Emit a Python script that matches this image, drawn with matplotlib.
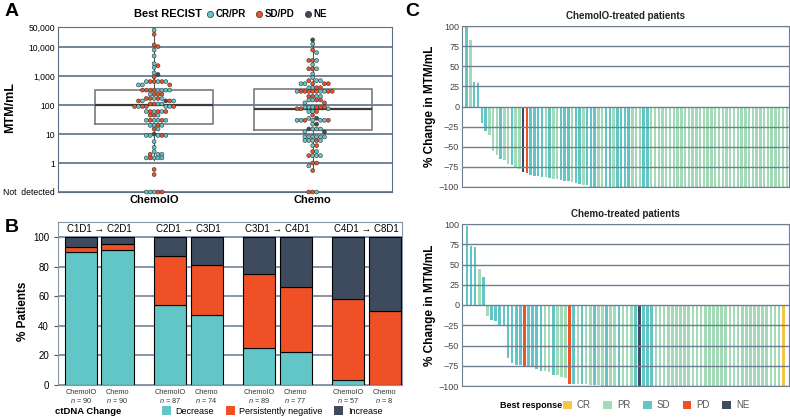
# ctDNA / MTM multi-panel figure (A: beeswarm, B: stacked bars, C: waterfalls)

import numpy as np
import matplotlib.pyplot as plt
from matplotlib.patches import Patch
from matplotlib.lines import Line2D
from matplotlib.ticker import NullLocator
import matplotlib.transforms as mtransforms

plt.rcParams['font.family'] = ['Liberation Sans', 'DejaVu Sans']
plt.rcParams['mathtext.fontset'] = 'custom'
plt.rcParams['mathtext.rm'] = 'Liberation Sans'
plt.rcParams['mathtext.it'] = 'Liberation Sans:italic'

W, H = 790, 418

TEAL = '#62C6C6'
RED = '#EF5026'
NAVY = '#3E4B5E'
GREEN = '#A3DBB8'
YELLOW = '#F2C54B'
GRID = '#5E6D86'

# ---------------- Panel A data: MTM/mL per patient (0.1 = not detected) ----
# R = CR/PR, S = SD/PD, N = NE
chemoio_mtm = [39000, 28000, 12000, 10500, 8000, 5000, 2700, 2300, 2000, 1300, 1150, 950,
               650, 650, 650, 650, 650, 650, 500, 500, 500,
               330, 330, 330, 330, 330, 330, 330, 330, 240, 240, 240, 240,
               170, 170, 170, 170, 170, 140, 140, 140, 140, 140,
               110, 110, 110, 110, 90, 90, 90, 90, 90, 90, 90,
               60, 60, 60, 60, 60, 60, 45, 45, 45,
               30, 30, 30, 30, 30, 30, 20, 20, 20, 20, 15, 15, 10,
               9, 9, 9, 9, 9, 5.5, 3.5, 2.5, 2, 2, 2,
               1.5, 1.5, 1.5, 1.5, 1.5, 0.6, 0.4, 0.1, 0.1, 0.1, 0.1, 0.1]
chemoio_recist = list("RSSSRRRSRRNS" "SRSSRR" "RSR" "SRSRSRSR" "SSRS"
                      "RSSRS" "NRSSR" "SRSR" "SRSRRSS" "RSSRRS" "SRS"
                      "RRSSRR" "RSRR" "SR" "N" "RRSRR" "RRR" "RSR" "RRSRR" "SS" "RSRSR")

chemo_mtm = [18000, 13000, 8000, 6500, 3500, 3500, 3500, 2500, 1800, 1800, 1800, 1200, 900,
             700, 700, 700, 550, 550, 550, 550, 550, 400, 400, 400, 400,
             300, 300, 300, 300, 300, 300, 300, 300, 300, 300,
             200, 200, 200, 200, 150, 150, 150, 150, 120, 120,
             85, 85, 85, 85, 85, 85, 75, 75, 75, 60, 60, 60, 45, 35, 35,
             30, 30, 30, 30, 30, 30, 30, 22, 22, 15, 15, 15, 15, 12, 12,
             8, 8, 8, 8, 8, 8, 6, 6, 6, 6, 6, 4, 4, 2.5, 2.5,
             1.8, 1.8, 1.8, 1.8, 1.0, 1.0, 0.8, 0.55, 0.1, 0.1, 0.1]
chemo_recist = list("NRSR" "SRS" "R" "SRS" "RR" "RSR" "SRSRS" "RSRS"
                    "SSSRSRSSRS" "SRSR" "RSRS" "RS" "RSRSRS" "SRS" "RSR" "S" "NR"
                    "RRSRRSR" "RN" "RRNR" "RN" "RRRRRR" "RSRRR" "RS" "SR"
                    "RRSR" "SS" "R" "S" "SRS")

# box stats
box_q1 = [22, 14]
box_med = [100, 71]
box_q3 = [330, 350]
box_lo = [1.3, 0.55]
box_hi = [39000, 18000]
groups = ['ChemoIO', 'Chemo']

# ---------------- Panel B data ----------------
intervals = ['C1D1 \u2192 C2D1', 'C2D1 \u2192 C3D1', 'C3D1 \u2192 C4D1', 'C4D1 \u2192 C8D1']
n_chemoio = [90, 87, 89, 57]
n_chemo = [90, 74, 77, 8]
dec_chemoio = [90, 54, 25, 3.5]
neg_chemoio = [3, 33, 50, 54.5]
inc_chemoio = [7, 13, 25, 42]
dec_chemo = [91, 47, 22, 0]
neg_chemo = [4.5, 34, 44, 50]
inc_chemo = [4.5, 19, 34, 50]

# ---------------- Panel C data: % change in MTM/mL ----------------
# C = CR, P = PR, S = SD, D = PD, N = NE
wf_chemoio = [100, 83, 30, 29, -21, -30, -35, -55, -60, -65, -66, -72, -73, -75, -78,
              -81, -82, -85, -86, -86, -87, -88, -89, -90, -90, -91, -92, -93, -94,
              -95, -96, -97, -98,
              -100, -100, -100, -100, -100, -100, -100, -100, -100, -100,
              -100, -100, -100, -100, -100, -100, -100, -100, -100, -100,
              -100, -100, -100, -100, -100, -100, -100, -100, -100, -100,
              -100, -100, -100, -100, -100, -100, -100, -100, -100, -100,
              -100, -100, -100, -100, -100, -100, -100, -100, -100, -100,
              -100, -100, -100]
wf_chemoio_resp = list("SPSSSSPPPSPPSPPND" "SSSSPSPPS" "SSPSSPSSSPPSSPSSSSPPPSS"
                       "PPPPPPPPPPPPPPPPPPPPPPPPPPPPPPPPPPPPP")
wf_chemo = [97, 73, 72, 44, 34, -13, -19, -20, -26, -26, -65, -72, -74, -74, -75,
            -76, -77, -79, -81, -82, -83, -86, -87, -89, -90, -97, -97, -97, -98,
            -98, -99, -99, -99,
            -100, -100, -100, -100, -100, -100, -100, -100, -100, -100,
            -100, -100, -100, -100, -100, -100, -100, -100, -100, -100,
            -100, -100, -100, -100, -100, -100, -100, -100, -100, -100,
            -100, -100, -100, -100, -100, -100, -100, -100, -100, -100,
            -100, -100, -100, -100, -100]
wf_chemo_resp = list("SSSPSPSSSSSSSSDSSSSPPSPPPD" "SPSPPSPPSPPSPPPSNSSS"
                     "PPPPPPPPPPPPPPPPPPPPPPPPPPPPPPP" "C")

recist_colors = {'R': TEAL, 'S': RED, 'N': NAVY}
resp_colors = {'C': YELLOW, 'P': GREEN, 'S': TEAL, 'D': RED, 'N': NAVY}


def px_rect(l, t, r, b):
    return [l / W, 1 - b / H, (r - l) / W, (b - t) / H]


def swarm(values, d=3.9, ppd=28.95, ppx=158.5):
    # simple beeswarm: offsets in steps of one dot width, in pixel space
    y = np.log10(values) * ppd
    cands = [0.0]
    for m in range(1, 40):
        cands += [m * d, -m * d]
    placed = []
    xs = np.zeros(len(values))
    for i in np.argsort(-y, kind='stable'):
        for c in cands:
            if all((c - px) ** 2 + (y[i] - py) ** 2 >= 0.75 * d * d for px, py in placed):
                break
        placed.append((c, y[i]))
        xs[i] = c / ppx
    return xs


fig = plt.figure(figsize=(W / 100, H / 100), dpi=100)

# ================= Panel A =================
axA = fig.add_axes(px_rect(58, 27, 392, 192))
axA.set_yscale('log')
axA.set_ylim(0.1, 5e4)
axA.set_xlim(-0.606, 1.5)
axA.yaxis.set_minor_locator(NullLocator())
axA.set_yticks([0.1, 1, 10, 100, 1000, 10000, 50000])
axA.set_yticklabels(['Not  detected', '1', '10', '100', '1,000', '10,000', '50,000'], fontsize=6.2)
for y in [0.1, 1, 10, 100, 1000, 10000, 50000]:
    axA.axhline(y, color=GRID, lw=1.2, zorder=0)
for s in axA.spines.values():
    s.set_color(GRID)
axA.tick_params(length=0, pad=2)
stats = [dict(med=box_med[i], q1=box_q1[i], q3=box_q3[i], whislo=box_lo[i],
              whishi=box_hi[i], label=groups[i]) for i in range(2)]
axA.bxp(stats, positions=[0, 1], widths=0.745, showfliers=False, showcaps=False,
        boxprops=dict(color='#7a7a7a', lw=1.2), medianprops=dict(color='#3a3a3a', lw=1.6),
        whiskerprops=dict(color='#555555', lw=0.8), zorder=1)
axA.set_xticks([0, 1])
axA.set_xticklabels(groups, fontsize=8, fontweight='bold')
axA.set_ylabel('MTM/mL', fontsize=9, fontweight='bold')
axA.yaxis.set_label_coords(-0.125, 0.51)
for i, (vals, resp) in enumerate([(chemoio_mtm, chemoio_recist), (chemo_mtm, chemo_recist)]):
    xo = swarm(np.array(vals, dtype=float))
    axA.scatter(i + xo, vals, s=8, c=[recist_colors[r] for r in resp],
                edgecolors='#333333', linewidths=0.4, zorder=3, clip_on=False)

fig.text(134 / W, 1 - 14 / H, 'Best RECIST', fontsize=8, fontweight='bold', va='center')
hA = [Line2D([], [], marker='o', ls='', mfc=c, mec='#333333', mew=0.5, ms=4.5)
      for c in [TEAL, RED, NAVY]]
fig.legend(hA, ['CR/PR', 'SD/PD', 'NE'], loc='center left', bbox_to_anchor=(205 / W, 1 - 14 / H),
           ncol=3, frameon=False, handletextpad=0.05, columnspacing=0.9, handlelength=1.0,
           borderaxespad=0, borderpad=0, prop=dict(weight='bold', size=7))

# ================= Panel B =================
axB = fig.add_axes(px_rect(58, 222, 402, 385))
axB.set_xlim(-0.463, 3.40)
axB.set_ylim(0, 110.1)
for y in range(0, 101, 20):
    axB.axhline(y, color='#7F8CA1', lw=1.3, zorder=0)
for s in axB.spines.values():
    s.set_color('#8795AA')
axB.set_yticks(range(0, 101, 20))
axB.tick_params(axis='y', labelsize=7, length=3, color='#555555')
axB.set_xticks([])
xi = np.arange(len(intervals))
off, bw = 0.205, 0.36
for xs, dec, neg, inc in [(xi - off, dec_chemoio, neg_chemoio, inc_chemoio),
                          (xi + off, dec_chemo, neg_chemo, inc_chemo)]:
    dec, neg, inc = map(np.array, (dec, neg, inc))
    axB.bar(xs, dec, bw, color=TEAL, edgecolor='black', lw=0.8, zorder=2)
    axB.bar(xs, neg, bw, bottom=dec, color=RED, edgecolor='black', lw=0.8, zorder=2)
    axB.bar(xs, inc, bw, bottom=dec + neg, color=NAVY, edgecolor='black', lw=0.8, zorder=2)
for i, lab in enumerate(intervals):
    axB.text(i, 105.2, lab, ha='center', va='center', fontsize=7)
trB = mtransforms.blended_transform_factory(axB.transData, axB.transAxes)
for i in xi:
    for x, g, n in [(i - off, 'ChemoIO', n_chemoio[i]), (i + off, 'Chemo', n_chemo[i])]:
        axB.text(x, -0.025, g + '\n' + r'$\it{n}$' + ' = %d' % n, transform=trB,
                 ha='center', va='top', fontsize=5.3, linespacing=0.95, color='#333333')
axB.set_ylabel('% Patients', fontsize=8.5, fontweight='bold', labelpad=3)
axB.yaxis.set_label_coords(-0.085, 0.45)

fig.text(55 / W, 1 - 411 / H, 'ctDNA Change', fontsize=6.8, fontweight='bold', va='center')
hB = [Patch(facecolor=c, edgecolor='none') for c in [TEAL, RED, NAVY]]
fig.legend(hB, ['Decrease', 'Persistently negative', 'Increase'], loc='center left',
           bbox_to_anchor=(162 / W, 1 - 411 / H), ncol=3, frameon=False, fontsize=6.5,
           handlelength=1.0, handleheight=1.0, handletextpad=0.5, columnspacing=1.3,
           borderaxespad=0, borderpad=0)

# ================= Panel C =================
def waterfall(rect, vals, resp, title, left_pad, right_pad):
    ax = fig.add_axes(px_rect(*rect))
    n = len(vals)
    ax.bar(np.arange(n), vals, width=0.65, color=[resp_colors[r] for r in resp], zorder=2)
    ax.set_xlim(-left_pad, n - 1 + right_pad)
    ax.set_ylim(-100, 100)
    ticks = list(range(-100, 101, 25))
    ax.set_yticks(ticks)
    for y in ticks:
        ax.axhline(y, color='#707D92', lw=1.0, zorder=3)
    for s in ax.spines.values():
        s.set_color('#707D92')
    ax.set_xticks([])
    ax.tick_params(axis='y', labelsize=6.5, length=0, pad=2, labelcolor='#444444')
    ax.set_title(title, fontsize=7, fontweight='bold', pad=5, color='#222222')
    ax.set_ylabel('% Change in MTM/mL', fontsize=8.5, fontweight='bold', labelpad=2)
    return ax


waterfall((462, 26, 789, 187), wf_chemoio, wf_chemoio_resp, 'ChemoIO-treated patients', 1.25, 0.6)
waterfall((462, 224, 789, 386), wf_chemo, wf_chemo_resp, 'Chemo-treated patients', 1.2, 1.4)

fig.text(500 / W, 1 - 405 / H, 'Best response', fontsize=6.5, fontweight='bold', va='center')
hC = [Patch(facecolor=c, edgecolor='none') for c in [YELLOW, GREEN, TEAL, RED, NAVY]]
fig.legend(hC, ['CR', 'PR', 'SD', 'PD', 'NE'], loc='center left', bbox_to_anchor=(563 / W, 1 - 405 / H),
           ncol=5, frameon=False, fontsize=7, handlelength=0.9, handleheight=0.9,
           handletextpad=0.5, columnspacing=1.3, borderaxespad=0, borderpad=0,
           labelcolor='#555555')

# panel letters
fig.text(5 / W, 1 - 12 / H, 'A', fontsize=14, fontweight='bold', va='center')
fig.text(5 / W, 1 - 228 / H, 'B', fontsize=14, fontweight='bold', va='center')
fig.text(405 / W, 1 - 12 / H, 'C', fontsize=14, fontweight='bold', va='center')

fig.savefig('out.png', dpi=100)
